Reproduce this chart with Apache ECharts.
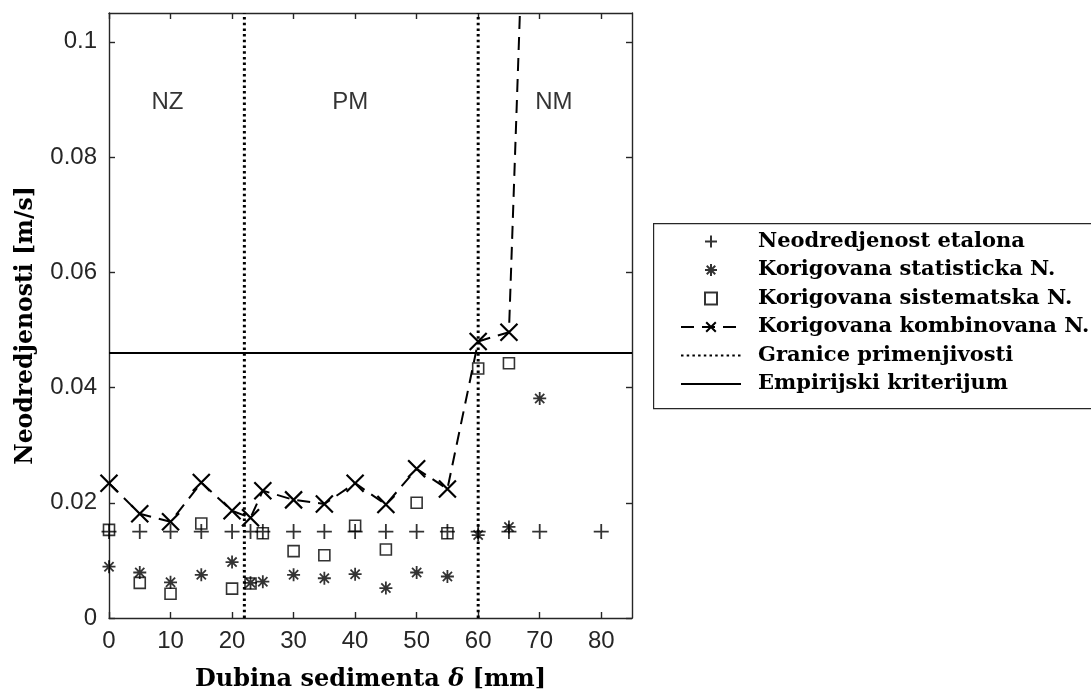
<!DOCTYPE html>
<html>
<head>
<meta charset="utf-8">
<script src="https://cdn.jsdelivr.net/npm/echarts@6/dist/echarts.min.js"></script>
<style>
  html, body { margin: 0; padding: 0; background: #fff; }
  #chart { width: 1091px; height: 694px; }
</style>
</head>
<body>
<div id="chart"></div>
<script>
// Depth of sediment [mm]
const depthEtalon = [0, 5, 10, 15, 20, 23, 25, 30, 35, 40, 45, 50, 55, 60, 65, 70, 80];
const etalon      = [0.015, 0.015, 0.015, 0.015, 0.015, 0.015, 0.015, 0.015, 0.015, 0.015, 0.015, 0.015, 0.015, 0.015, 0.015, 0.015, 0.015];

const depthCorr   = [0, 5, 10, 15, 20, 23, 25, 30, 35, 40, 45, 50, 55, 60, 65, 70];
const statisticka = [0.0089, 0.0079, 0.0062, 0.0075, 0.0097, 0.0061, 0.0063, 0.0075, 0.0069, 0.0076, 0.0052, 0.0079, 0.0072, 0.0144, 0.0158, 0.0381];
const sistematska = [0.0153, 0.0061, 0.0042, 0.0164, 0.0051, 0.0060, 0.0147, 0.0116, 0.0109, 0.0160, 0.0119, 0.0200, 0.0147, 0.0433, 0.0442, null];
const kombinovana = [0.0234, 0.0181, 0.0167, 0.0235, 0.0186, 0.0174, 0.0221, 0.0205, 0.0198, 0.0234, 0.0197, 0.0259, 0.0224, 0.0480, 0.0496, 0.2050];

const boundaries = [22, 60];           // limits of applicability
const criterion  = 0.046;              // empirical criterion
const zones = [
  { name: 'NZ', x: 9.5,  y: 0.0895 },
  { name: 'PM', x: 39.2, y: 0.0895 },
  { name: 'NM', x: 72.3, y: 0.0895 }
];
const xTicks = [0, 10, 20, 30, 40, 50, 60, 70, 80];
const yTicks = [0, 0.02, 0.04, 0.06, 0.08, 0.1];

const names = {
  etalon: 'Neodredjenost etalona',
  stat: 'Korigovana statisticka N.',
  sist: 'Korigovana sistematska N.',
  komb: 'Korigovana kombinovana N.',
  gran: 'Granice primenjivosti',
  emp: 'Empirijski kriterijum'
};

const INK = '#000';
const AXIS = '#262626';
const SANS = '"Liberation Sans", Arial, sans-serif';
const SERIF = '"DejaVu Serif", "Liberation Serif", serif';

const plusPath = 'path://M0,5L10,5M5,0L5,10';
const starPath = 'path://M0,5L10,5M5,0L5,10M1.46,1.46L8.54,8.54M8.54,1.46L1.46,8.54';
const squarePath = 'path://M0,0L10,0L10,10L0,10Z';
const crossPath = 'path://M0,0L10,10M10,0L0,10';

const zip = (xs, ys) => xs.map((x, i) => [x, ys[i]]).filter(p => p[1] !== null);

const axisCommon = {
  axisLine: { show: true, onZero: false, lineStyle: { color: AXIS, width: 1.4 } },
  axisTick: { show: true, inside: true, length: 6, lineStyle: { color: AXIS, width: 1.4 } },
  splitLine: { show: false }
};

const chart = echarts.init(document.getElementById('chart'), null, { renderer: 'canvas' });

const option = {
  backgroundColor: '#fff',
  animation: false,
  grid: { left: 109, top: 13, right: 459, bottom: 76, containLabel: false, outerBoundsMode: 'none' },
  xAxis: [
    Object.assign({}, axisCommon, {
      type: 'value', min: 0, max: 85, position: 'bottom',
      axisTick: Object.assign({}, axisCommon.axisTick, { customValues: xTicks }),
      axisLabel: { customValues: xTicks, color: AXIS, fontFamily: SANS, fontSize: 24, margin: 11 },
      name: '{t|Dubina sedimenta }{d|δ}{t| [mm]}',
      nameLocation: 'middle', nameGap: 50,
      nameTextStyle: {
        rich: {
          t: { fontFamily: SERIF, fontWeight: 'bold', fontSize: 24, color: INK },
          d: { fontFamily: SERIF, fontStyle: 'italic', fontWeight: 'bold', fontSize: 24, color: INK }
        }
      }
    }),
    Object.assign({}, axisCommon, {
      type: 'value', min: 0, max: 85, position: 'top',
      axisTick: Object.assign({}, axisCommon.axisTick, { customValues: xTicks }),
      axisLabel: { show: false }
    })
  ],
  yAxis: [
    Object.assign({}, axisCommon, {
      type: 'value', min: 0, max: 0.105, position: 'left',
      axisTick: Object.assign({}, axisCommon.axisTick, { customValues: yTicks }),
      axisLabel: {
        customValues: yTicks, color: AXIS, fontFamily: SANS, fontSize: 24, margin: 12,
        formatter: v => String(Math.round(v * 1000) / 1000)
      },
      name: 'Neodredjenosti [m/s]',
      nameLocation: 'middle', nameGap: 71, nameRotate: 90,
      nameTextStyle: { fontFamily: SERIF, fontWeight: 'bold', fontSize: 23.5, color: INK, padding: [0, 20, 0, 0] }
    }),
    Object.assign({}, axisCommon, {
      type: 'value', min: 0, max: 0.105, position: 'right',
      axisTick: Object.assign({}, axisCommon.axisTick, { customValues: yTicks }),
      axisLabel: { show: false }
    })
  ],
  legend: {
    orient: 'vertical',
    left: 680, top: 231,
    itemWidth: 60, itemHeight: 12, itemGap: 7.5,
    padding: 0,
    data: [
      names.etalon, names.stat, names.sist, names.komb,
      { name: names.gran, itemStyle: { opacity: 0 } },
      { name: names.emp, itemStyle: { opacity: 0 } }
    ],
    textStyle: { fontFamily: SERIF, fontWeight: 'bold', fontSize: 21, color: INK, padding: [0, 0, 0, 12] },
    selectedMode: false
  },
  graphic: [
    {
      type: 'rect', left: 653, top: 223, z: 0,
      shape: { width: 460, height: 185 },
      style: { fill: '#fff', stroke: AXIS, lineWidth: 1.2 }
    }
  ],
  series: [
    {
      name: names.emp, type: 'line', data: [[0, criterion], [85, criterion]],
      symbol: 'none', lineStyle: { color: INK, width: 2 }, itemStyle: { color: INK }, z: 2
    },
    {
      name: names.gran, type: 'line', data: [[boundaries[0], 0], [boundaries[0], 0.105]],
      symbol: 'none', lineStyle: { color: INK, width: 3, type: [2.5, 3.2], cap: 'butt' }, itemStyle: { color: INK }, z: 2
    },
    {
      name: names.gran, type: 'line', data: [[boundaries[1], 0], [boundaries[1], 0.105]],
      symbol: 'none', lineStyle: { color: INK, width: 3, type: [2.5, 3.2], cap: 'butt' }, itemStyle: { color: INK }, z: 2
    },
    {
      name: names.etalon, type: 'scatter', data: zip(depthEtalon, etalon),
      symbol: plusPath, symbolSize: 15, symbolKeepAspect: true,
      itemStyle: { color: 'none', borderColor: INK, borderWidth: 1.8 }, z: 3
    },
    {
      name: names.stat, type: 'scatter', data: zip(depthCorr, statisticka),
      symbol: starPath, symbolSize: 13, symbolKeepAspect: true,
      itemStyle: { color: 'none', borderColor: INK, borderWidth: 1.8 }, z: 3
    },
    {
      name: names.sist, type: 'scatter', data: zip(depthCorr, sistematska),
      symbol: squarePath, symbolSize: 11, symbolKeepAspect: true,
      itemStyle: { color: 'none', borderColor: INK, borderWidth: 1.6 }, z: 3
    },
    {
      name: names.komb, type: 'line', data: zip(depthCorr, kombinovana),
      symbol: crossPath, symbolSize: 17, symbolKeepAspect: true, showAllSymbol: true,
      clip: true,
      lineStyle: { color: INK, width: 2, type: [13, 8] },
      itemStyle: { color: 'none', borderColor: INK, borderWidth: 2.2 }, z: 4
    },
    {
      name: 'zones', type: 'scatter', symbolSize: 0, silent: true,
      data: zones.map(z => ({ value: [z.x, z.y], label: { formatter: z.name } })),
      label: { show: true, position: 'inside', fontFamily: SANS, fontSize: 24, color: INK },
      z: 5
    }
  ]
};

chart.setOption(option);
</script>
</body>
</html>
